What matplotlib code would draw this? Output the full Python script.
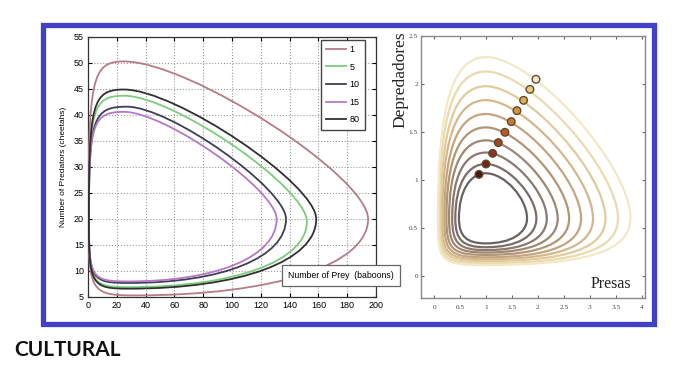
import matplotlib.pyplot as plt
from matplotlib.path import Path
from matplotlib.patches import PathPatch, Rectangle
from matplotlib.lines import Line2D

# ---- left panel: predator / prey cycles (extreme points of each closed curve)
left_labels = ['1', '5', '10', '15', '80']
left_colors = ['#b57c86', '#7ccc7c', '#3e3e58', '#b678c6', '#303030']
left_top_x = [25, 25, 27, 25, 25]
left_top_y = [50.3, 43.7, 41.6, 40.6, 44.9]
left_right_x = [194.5, 152, 137.5, 131, 158.5]
left_right_y = [20, 19.5, 20, 20, 20]
left_bottom_x = [32, 28, 28, 28, 28]
left_bottom_y = [5.3, 6.9, 7.7, 8.0, 6.6]
left_left_x = [0.3, 0.6, 0.6, 0.6, 0.6]
left_left_y = [20, 20, 20, 20, 20]
left_xticks = [0, 20, 40, 60, 80, 100, 120, 140, 160, 180, 200]
left_yticks = [5, 10, 15, 20, 25, 30, 35, 40, 45, 50, 55]

# ---- right panel: nested orbits (inner -> outer)
orbit_left_x = [0.48, 0.41, 0.35, 0.29, 0.24, 0.20, 0.16, 0.13, 0.10, 0.075]
orbit_right_x = [1.79, 1.97, 2.17, 2.38, 2.60, 2.83, 3.06, 3.30, 3.54, 3.78]
orbit_top_y = [1.07, 1.167, 1.286, 1.413, 1.548, 1.688, 1.832, 1.977, 2.13, 2.28]
orbit_bottom_y = [0.34, 0.30, 0.27, 0.245, 0.22, 0.195, 0.175, 0.155, 0.135, 0.115]
eq_prey = 1.0
eq_pred = 0.6
dot_prey = [0.865, 1.0, 1.128, 1.237, 1.365, 1.487, 1.596, 1.724, 1.846, 1.962]
dot_pred = [1.059, 1.167, 1.278, 1.389, 1.497, 1.608, 1.722, 1.830, 1.944, 2.049]
orbit_colors = ['#6a6262', '#7a6d68', '#8c7a6e', '#9f8772', '#b29575',
                '#c4a57e', '#d4b78a', '#e2ca9c', '#ecdaae', '#f4e8c4']
dot_colors = ['#4a1a0c', '#742812', '#8e3616', '#a5451c', '#bc5a22',
              '#cc782c', '#d89438', '#e0b04e', '#e8cc78', '#f6ecc4']
# bulge of each quarter of an orbit (upper-right, lower-right, lower-left, upper-left)
bulge_ur = [0.45, 0.42, 0.40, 0.38, 0.37, 0.36, 0.35, 0.34, 0.33, 0.33]
bulge_lr = [0.60, 0.62, 0.64, 0.65, 0.66, 0.67, 0.68, 0.69, 0.70, 0.70]
bulge_ll = [0.72, 0.76, 0.80, 0.83, 0.86, 0.88, 0.90, 0.92, 0.94, 0.95]
bulge_ul = [0.60, 0.62, 0.64, 0.65, 0.66, 0.67, 0.68, 0.69, 0.70, 0.70]
right_ticks_x = [0, 0.5, 1, 1.5, 2, 2.5, 3, 3.5, 4]
right_ticks_y = [0, 0.5, 1, 1.5, 2, 2.5]


def orbit_path(lf, tp, rt, bt, kur, klr, kll, kul):
    (xl, yl), (xt, yt), (xr, yr), (xb, yb) = lf, tp, rt, bt
    verts = [
        (xt, yt),
        (xt + kur * (xr - xt), yt), (xr, yr + kur * (yt - yr)), (xr, yr),
        (xr, yr - klr * (yr - yb)), (xb + klr * (xr - xb), yb), (xb, yb),
        (xb - kll * (xb - xl), yb), (xl, yl - kll * (yl - yb)), (xl, yl),
        (xl, yl + kul * (yt - yl)), (xt - kul * (xt - xl), yt), (xt, yt),
        (xt, yt),
    ]
    codes = [Path.MOVETO] + [Path.CURVE4] * 12 + [Path.CLOSEPOLY]
    return Path(verts, codes)


fig = plt.figure(figsize=(6.96, 3.65), dpi=100)

# blue frame
fig.patches.append(Rectangle((42.5 / 696, 1 - 323.5 / 365), 611 / 696, 299 / 365,
                             transform=fig.transFigure, fill=False,
                             edgecolor='#4141c6', linewidth=3.8))

# ---------------- left panel
ax1 = fig.add_axes([88 / 696, 1 - 297 / 365, 288 / 696, 260 / 365])
handles = []
for i in range(len(left_labels)):
    p = orbit_path((left_left_x[i], left_left_y[i]), (left_top_x[i], left_top_y[i]),
                   (left_right_x[i], left_right_y[i]), (left_bottom_x[i], left_bottom_y[i]),
                   0.27, 0.6, 0.95, 0.9)
    ax1.add_patch(PathPatch(p, fill=False, edgecolor=left_colors[i], lw=1.3, zorder=3))
    handles.append(Line2D([], [], color=left_colors[i], lw=1.3))
ax1.set_xlim(0, 200)
ax1.set_ylim(5, 55)
ax1.set_xticks(left_xticks)
ax1.set_yticks(left_yticks)
ax1.grid(True, linestyle=':', color='#9a9a9a', linewidth=0.8)
ax1.tick_params(direction='in', length=3, labelsize=6.5, top=True, right=True, pad=3)
for lab in ax1.get_xticklabels() + ax1.get_yticklabels():
    lab.set_family('Liberation Sans')
for s in ax1.spines.values():
    s.set_color('#333333')
    s.set_linewidth(0.9)
ax1.set_ylabel('Number of Predators (cheetahs)', fontsize=6, family='Liberation Sans', labelpad=5)
ax1.text(175.5, 9.2, 'Number of Prey  (baboons)', fontsize=6.3, family='Liberation Sans',
         ha='center', va='center', clip_on=False, zorder=5,
         bbox=dict(boxstyle='square,pad=0.7', fc='white', ec='#666666', lw=0.9))
leg = ax1.legend(handles, left_labels, loc='upper right', bbox_to_anchor=(0.962, 0.99),
                 handlelength=2.2, labelspacing=0.95, borderaxespad=0,
                 handletextpad=0.4, borderpad=0.6,
                 fancybox=False, edgecolor='#444444', framealpha=1,
                 prop={'family': 'Liberation Sans', 'size': 6.5})
leg.get_frame().set_linewidth(1.0)

# ---------------- right panel
ax2 = fig.add_axes([420.7 / 696, 1 - 298.3 / 365, 224.3 / 696, 262.3 / 365])
for i in range(len(orbit_right_x)):
    p = orbit_path((orbit_left_x[i], eq_pred), (eq_prey, orbit_top_y[i]),
                   (orbit_right_x[i], eq_pred), (eq_prey, orbit_bottom_y[i]),
                   bulge_ur[i], bulge_lr[i], bulge_ll[i], bulge_ul[i])
    ax2.add_patch(PathPatch(p, fill=False, edgecolor=orbit_colors[i], lw=1.6, zorder=2))
ax2.scatter(dot_prey, dot_pred, s=30, c=dot_colors, edgecolors='#5c4a38',
            linewidths=1.0, zorder=4)
ax2.set_xlim(-0.256, 4.06)
ax2.set_ylim(-0.232, 2.5)
ax2.set_xticks(right_ticks_x)
ax2.set_xticklabels(['0', '0.5', '1', '1.5', '2', '2.5', '3', '3.5', '4'])
ax2.set_yticks(right_ticks_y)
ax2.set_yticklabels(['0', '0.5', '1', '1.5', '2', '2.5'])
ax2.tick_params(direction='in', length=2.5, labelsize=5.2, top=True, right=True,
                colors='#666666', labelcolor='#444444')
ax2.tick_params(axis='x', pad=5)
ax2.tick_params(axis='y', pad=2)
for lab in ax2.get_xticklabels() + ax2.get_yticklabels():
    lab.set_family('Liberation Serif')
for s in ax2.spines.values():
    s.set_color('#888888')
    s.set_linewidth(1.0)
ax2.text(3.02, -0.12, 'Presas', fontsize=11.5, family='Liberation Serif', color='#222222',
         ha='left', va='baseline')
fig.text(400 / 696, 1 - 80 / 365, 'Depredadores', rotation=90, fontsize=12.5,
         family='Liberation Serif', color='#222222', ha='center', va='center')

# logo
fig.text(14 / 696, 1 - 356 / 365, 'CULTURAL', fontsize=15, family='Lato',
         fontweight='bold', color='#111111', ha='left', va='baseline')

fig.savefig('out.png', dpi=100)
